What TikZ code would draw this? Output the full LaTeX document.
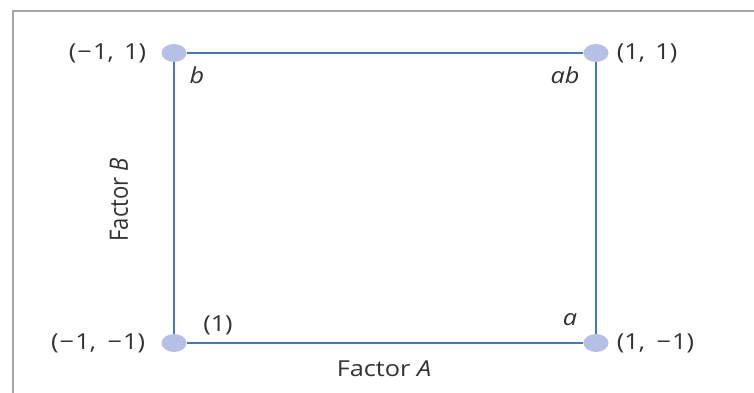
\documentclass[tikz,border=0pt]{standalone}
\usepackage{fontspec}
\setmainfont{Open Sans}
\usepackage{xcolor}
\usepackage{tikz}
\usetikzlibrary{positioning,calc,shapes.geometric}
\definecolor{fcblue}{RGB}{68,120,190}
\definecolor{fcdotfill}{RGB}{182,192,228}
\definecolor{fctext}{RGB}{50,50,50}
\definecolor{fcgrey}{RGB}{165,165,165}
\newcommand{\fcminus}{\kern1pt−\kern1pt}
\tikzset{
  fcdot/.style={ellipse, fill=fcdotfill, draw=none, minimum width=25pt, minimum height=18pt, inner sep=0pt},
  fcline/.style={draw=fcblue, line width=2.6pt},
  fclabel/.style={inner sep=0pt, text=fctext, font=\fontsize{22}{22}\selectfont, xscale=1.15},
  fccorner/.style={fclabel, font=\fontsize{22}{22}\selectfont\itshape},
  fcframe/.style={draw=fcgrey, line width=1.8pt}
}
\begin{document}
\begin{tikzpicture}[x=1pt, y=-1pt]
  \useasboundingbox (0,0) rectangle (754,393);
  \draw[fcframe] (13,393) -- (13,11) -- (754,11);

  \node[fcdot] (tl) at (174,53) {};
  \node[fcdot] (tr) at (596,53) {};
  \node[fcdot] (bl) at (174,343) {};
  \node[fcdot] (br) at (596,343) {};

  \draw[fcline] (tl) -- (tr);
  \draw[fcline] (tr) -- (br);
  \draw[fcline] (br) -- (bl);
  \draw[fcline] (bl) -- (tl);

  % corner coordinates
  \node[fclabel, left=15pt of tl] (tlcoord) {(\fcminus1,\hspace{9pt}1)};
  \node[fclabel, right=8pt of tr] (trcoord) {(1,\hspace{9pt}1)};
  \node[fclabel, left=16pt of bl] (blcoord) {(\fcminus1,\hspace{9pt}\fcminus1)};
  \node[fclabel, right=8pt of br] (brcoord) {(1,\hspace{9pt}\fcminus1)};

  % treatment combinations
  \node[fccorner] (trtb) at ([shift={(23,22)}]tl) {b};
  \node[fccorner] (trtab) at ([shift={(-31,22)}]tr) {ab};
  \node[fclabel] (trtone) at ([shift={(44,-18)}]bl) {(1)};
  \node[fccorner] (trta) at ([shift={(-26,-23)}]br) {a};

  \node[fclabel, rotate=90] (facb) at (119,200) {Factor \textit{B}};
  \node[fclabel] (faca) at (384,369) {Factor \textit{A}};
\end{tikzpicture}
\end{document}
